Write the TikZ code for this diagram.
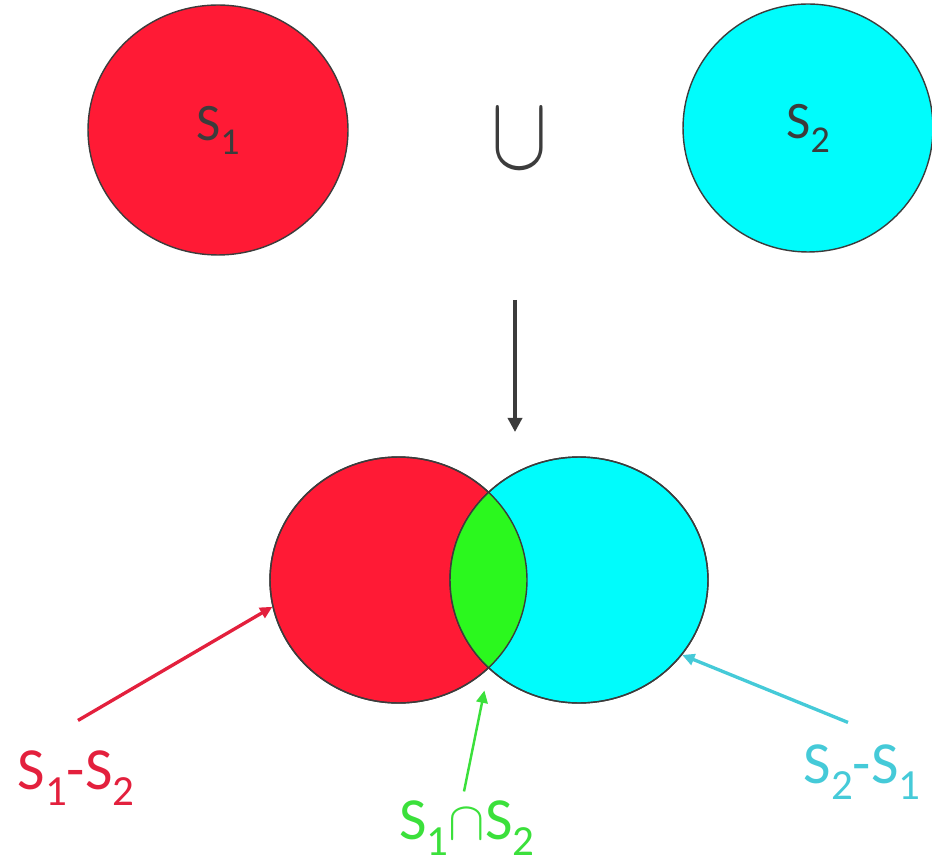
\documentclass[tikz,border=0pt]{standalone}
\usepackage{fontspec}
\setmainfont{Carlito}
\usetikzlibrary{shapes.geometric, arrows.meta, positioning, calc}

\definecolor{setred}{HTML}{FF1A35}
\definecolor{setcyan}{HTML}{00FCFC}
\definecolor{lensgreen}{HTML}{2BF81E}
\definecolor{darkline}{HTML}{3C3C3C}
\definecolor{labred}{HTML}{E3203D}
\definecolor{labgreen}{HTML}{3BE03B}
\definecolor{labcyan}{HTML}{45CAD8}

\newcommand{\sx}[1]{\raisebox{-0.55ex}{\scalebox{0.72}{#1}}}

\begin{document}
\begin{tikzpicture}[x=0.02cm, y=-0.02cm,
  setc/.style={ellipse,draw=darkline,line width=0.8pt,inner sep=0pt,text=darkline,font=\fontsize{30}{36}\selectfont},
  lab/.style={inner sep=0pt,font=\fontsize{34}{40}\selectfont},
  arr/.style={-{Triangle[length=7pt,width=6.5pt]},line width=1.9pt}
]
  \useasboundingbox (0,0) rectangle (932,864);

  % the two sets
  \node[setc,fill=setred, minimum width=5.2cm,minimum height=5.0cm] (s1) at (218,130) {S\sx{1}};
  \node[setc,fill=setcyan,minimum width=5.0cm,minimum height=4.96cm] (s2) at (808,128) {S\sx{2}};
  \node[text=darkline,inner sep=0pt] (un) at (520,139) {\scalebox{4.8}[6.0]{$\cup$}};

  \coordinate (mtop) at (515,300);
  \coordinate (mbot) at (515,432);
  \draw[arr,darkline,-{Triangle[length=8pt,width=8pt]}] (mtop) -- (mbot);

  % the union
  \node[setc,fill=setred, minimum width=5.14cm,minimum height=4.92cm] (a) at (398.5,580) {};
  \node[setc,fill=setcyan,minimum width=5.16cm,minimum height=4.92cm] (b) at (579,580) {};
  \begin{scope}
    \clip (a.center) ellipse (2.57cm and 2.46cm);
    \fill[lensgreen] (b.center) ellipse (2.58cm and 2.46cm);
  \end{scope}
  \draw[darkline,line width=0.8pt] (a.center) ellipse (2.57cm and 2.46cm);
  \draw[darkline,line width=0.8pt] (b.center) ellipse (2.58cm and 2.46cm);
  \coordinate (lens) at (490,663);

  \node[lab,text=labred]   (l1) at (76,778)  {S\sx{1}-S\sx{2}};
  \node[lab,text=labgreen] (l3) at (467,828) {S\sx{1}\scalebox{1.25}{$\cap$}S\sx{2}};
  \node[lab,text=labcyan]  (l4) at (862,772) {S\sx{2}-S\sx{1}};

  \draw[arr,labred]  ([shift={(2,-30)}]l1.north) -- (a.192);
  \draw[arr,labgreen,line width=1.4pt,shorten >=16pt] ([shift={(-3,-9)}]l3.north) -- (lens);
  \draw[arr,labcyan] ([shift={(-14,-22)}]l4.north) -- (b.324);
\end{tikzpicture}
\end{document}
